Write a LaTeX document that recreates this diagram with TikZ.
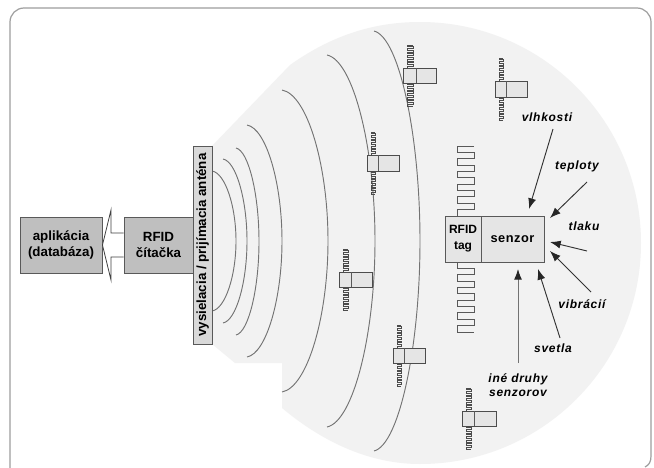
\documentclass[tikz,border=0pt]{standalone}
\usepackage{fontspec}
\setmainfont{Liberation Sans}
\usetikzlibrary{arrows.meta}
\tikzset{
  x=0.75pt,y=-0.75pt,
  box/.style={draw=black!65,line width=0.7pt,fill=#1,inner sep=0pt,font=\bfseries\fontsize{10}{12.5}\selectfont,align=center},
  wave/.style={draw=black!55,line width=0.7pt},
  tagbody/.style={draw=black!70,line width=0.7pt,fill=#1},
  mline/.style={draw=black!65,line width=0.7pt},
  mfine/.style={draw=black!70,line width=0.6pt},
  sarrow/.style={draw=black!80,line width=0.7pt,-{Latex[length=8pt,width=6pt,color=black!85]}},
  lab/.style={inner sep=0pt,align=center,font=\bfseries\itshape\fontsize{9}{11}\selectfont\addfontfeatures{LetterSpace=6}}
}
% wave: x0, ytop, xmax, ybottom
\newcommand{\wavearc}[4]{%
  \path[wave] (#1,#2) .. controls ({#1+0.55*(#3-#1)},{#2+0.03*(#4-#2)/2}) and (#3,{#2+0.25*(#4-#2)}) .. (#3,{(#2+#4)/2})
   .. controls (#3,{#2+0.75*(#4-#2)}) and ({#1+0.55*(#3-#1)},{#4-0.03*(#4-#2)/2}) .. (#1,#4);}
% meander: style, xleft, xright, ystart, yend, half periods
\newcommand{\meander}[6]{%
  \pgfmathsetmacro{\mstep}{((#5)-(#4))/#6}%
  \path[#1] (#3,{#4}) -- (#2,{#4})
  \foreach \mi in {1,...,#6}{
    \ifodd\mi\relax -- (#2,{(#4)+\mi*\mstep}) -- (#3,{(#4)+\mi*\mstep})
    \else -- (#3,{(#4)+\mi*\mstep}) -- (#2,{(#4)+\mi*\mstep}) \fi
  };}
% small tag: x left, x divider, x right, y top, y bottom
\newcommand{\smalltag}[5]{%
  \meander{mfine}{#1+4}{#2-3}{#4-23}{#4}{13}
  \meander{mfine}{#1+4}{#2-3}{#5}{#5+23}{13}
  \path[tagbody=black!10] (#1,#4) rectangle (#3,#5);
  \path[mline] (#2,#4) -- (#2,#5);}
\begin{document}
\begin{tikzpicture}
\useasboundingbox (0,0) rectangle (654,468);
\fill[white] (0,0) rectangle (654,468);
% frame
\draw[black!38,line width=0.9pt] (10,468) -- (10,22) arc[start angle=180,end angle=90,x radius=14,y radius=-14] -- (637,8)
  arc[start angle=90,end angle=0,x radius=14,y radius=-14] -- (651,456) .. controls (651,462) and (649,465) .. (645,467);
% field
\fill[black!5] (212,146) -- (290,65) .. controls (335,33) and (378,22) .. (420,22)
  .. controls (542,22) and (641,121) .. (641,243) .. controls (641,365) and (542,464) .. (420,464)
  .. controls (372,464) and (325,444) .. (282,408) -- (282,363) -- (235,363) -- (212,344) -- cycle;
% waves
\wavearc{212}{171}{236}{311}
\wavearc{223}{159}{247}{323}
\wavearc{236}{148}{259}{335}
\wavearc{247}{125}{282}{357}
\wavearc{282}{90}{328}{392}
\wavearc{327}{55}{375}{427}
\wavearc{374}{31}{420}{451}
% left boxes
\node[box=black!25,minimum width=61.5pt,minimum height=42pt] (app) at (61,245) {aplikácia\\(databáza)};
\node[box=black!25,minimum width=51.75pt,minimum height=42pt] (reader) at (158.5,245) {RFID\\čítačka};
\node[box=black!15,minimum width=148.5pt,minimum height=14.25pt,rotate=90] (ant) at (202.5,245) {vysielacia / prijímacia anténa};
% block arrow
\draw[black!75,line width=0.6pt,fill=white] (reader.west |- 0,233) -- (111,233) -- (111,210) -- (app.east) -- (111,280) -- (111,257) -- (reader.west |- 0,257);
% small tags
\smalltag{403}{416}{436}{68}{83}
\smalltag{495}{506}{527}{81}{97}
\smalltag{367}{378}{399}{155}{171}
\smalltag{339}{351}{372}{272}{287}
\smalltag{393}{404}{425}{348}{363}
\smalltag{462}{474}{496}{411}{426}
% large tag
\meander{mline}{457}{474}{146}{216}{11}
\meander{mline}{457}{474}{262}{332}{11}
\node[box=black!10,minimum width=27pt,minimum height=34.5pt,font=\bfseries\fontsize{9}{12}\selectfont] (tag) at (463,239) {RFID\\tag};
\node[box=black!10,minimum width=47.25pt,minimum height=34.5pt,font=\fontsize{9.6}{11}\selectfont\addfontfeatures{LetterSpace=4}\bfseries] (senzor) at (512.5,239) {senzor};
% labels
\node[lab] (lv) at (547,117) {vlhkosti};
\node[lab] (lt) at (577,166) {teploty};
\node[lab] (lp) at (584,226) {tlaku};
\node[lab] (lb) at (582,304) {vibrácií};
\node[lab] (ls) at (553,348) {svetla};
\node[lab] (li) at (518,385) {iné druhy\\senzorov};
% arrows
\coordinate (a1) at (553,129); \coordinate (b1) at (529,209);
\coordinate (a2) at (587,182); \coordinate (b2) at (550,218);
\coordinate (a3) at (587,251); \coordinate (b3) at (550,242);
\coordinate (a4) at (591,292); \coordinate (b4) at (550,251);
\coordinate (a5) at (560,338); \coordinate (b5) at (538,269);
\coordinate (a6) at (518,363); \coordinate (b6) at (518,269);
\draw[sarrow] (a1) -- (b1);
\draw[sarrow] (a2) -- (b2);
\draw[sarrow] (a3) -- (b3);
\draw[sarrow] (a4) -- (b4);
\draw[sarrow] (a5) -- (b5);
\draw[sarrow,draw=black!55] (a6) -- (b6);
\end{tikzpicture}
\end{document}
